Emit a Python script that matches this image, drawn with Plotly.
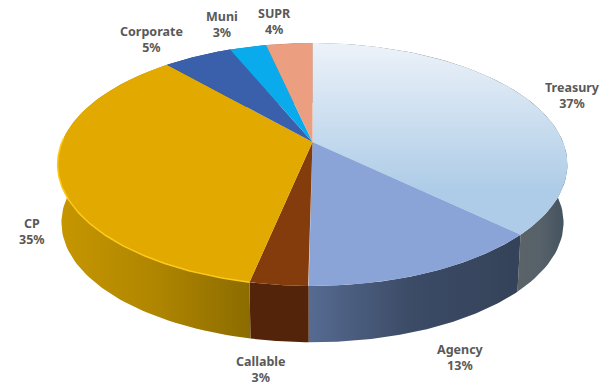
import numpy as np
import plotly.graph_objects as go

categories = ["Treasury", "Agency", "Callable", "CP", "Corporate", "Muni", "SUPR"]
# slice sizes (printed labels are rounded)
shares = [37.1, 13.1, 3.1, 35.2, 5.2, 2.8, 3.5]
label_text = ["37%", "13%", "3%", "35%", "5%", "3%", "4%"]

# styling
top_colors = ["#b4d0e8", "#8aa4d8", "#843c0c", "#e2aa00", "#3a5fab", "#0aabec", "#eb9f80"]
wall_stops = [
    (["#5c6468", "#56616a", "#43525f"], 515, 566),
    (["#566b92", "#3c4b66", "#35435a"], 309, 510),
    (["#53230a", "#53230a", "#53230a"], 250, 309),
    (["#c69600", "#b08600", "#8c6c00"], 60, 250),
    (["#2a4580", "#2a4580", "#2a4580"], 60, 300),
    (["#087db0", "#087db0", "#087db0"], 60, 300),
    (["#b57a60", "#b57a60", "#b57a60"], 60, 300),
]
label_pos = [(572, 95), (460, 357), (261, 369), (32, 231), (151, 39), (222, 24), (274, 21)]

CX, CY, AX, BY, K = 312.5, 142.0, 250.5, 117.3, 0.185
WALL_DY, WALL_SCALE = 58.5, 0.985


def project(deg, scale=1.0, dy=0.0):
    t = np.radians(deg)
    x, y = np.sin(t), -np.cos(t)
    d = 1 - K * y
    return CX + scale * AX * x / d, CY + dy + scale * BY * y / d


fig = go.Figure()
total = sum(shares)
edges = np.concatenate([[0], np.cumsum(shares)]) / total * 360

# side walls
for i, name in enumerate(categories):
    a = np.linspace(edges[i], edges[i + 1], 80)
    xt, yt = project(a)
    xb, yb = project(a[::-1], WALL_SCALE, WALL_DY)
    cols, x0, x1 = wall_stops[i]
    fig.add_trace(go.Scatter(
        x=np.r_[xt, xb, xt[0]], y=np.r_[yt, yb, yt[0]], mode="lines",
        line=dict(width=0), fill="toself", name=name + " side", showlegend=False,
        hoverinfo="skip",
        fillgradient=dict(type="horizontal", start=x0, stop=x1,
                          colorscale=[[0, cols[0]], [0.5, cols[1]], [1, cols[2]]]),
    ))

# top faces
for i, name in enumerate(categories):
    a = np.linspace(edges[i], edges[i + 1], 120)
    xt, yt = project(a)
    kw = dict(fillcolor=top_colors[i])
    if name == "Treasury":
        kw = dict(fillgradient=dict(type="vertical", start=44, stop=190,
                                    colorscale=[[0, "#ecf2f9"], [1, "#aecce7"]]))
    fig.add_trace(go.Scatter(
        x=np.r_[CX, xt, CX], y=np.r_[CY, yt, CY], mode="lines",
        line=dict(width=0), fill="toself", name=name, showlegend=False,
        hoverinfo="skip", **kw,
    ))

# bright rim on the front of the CP slice
a = np.linspace(edges[3], 272, 100)
xt, yt = project(a)
fig.add_trace(go.Scatter(x=xt, y=yt, mode="lines", line=dict(color="#ffc91a", width=1.5),
                         showlegend=False, hoverinfo="skip"))

# labels
for name, pct, (x, y) in zip(categories, label_text, label_pos):
    fig.add_annotation(x=x, y=y, text=f"<b>{name}</b><br><b>{pct}</b>", showarrow=False,
                       font=dict(family="Noto Sans", size=12.5, color="#595959"),
                       align="center", xanchor="center", yanchor="middle")

fig.update_layout(
    width=608, height=388, margin=dict(l=0, r=0, t=0, b=0),
    paper_bgcolor="white", plot_bgcolor="white", showlegend=False,
    xaxis=dict(range=[0, 608], visible=False, fixedrange=True),
    yaxis=dict(range=[388, 0], visible=False, fixedrange=True),
)
fig.write_html("out.html", config={"displayModeBar": False},
               post_script="document.body.style.margin='0';document.documentElement.style.overflow='hidden';")
